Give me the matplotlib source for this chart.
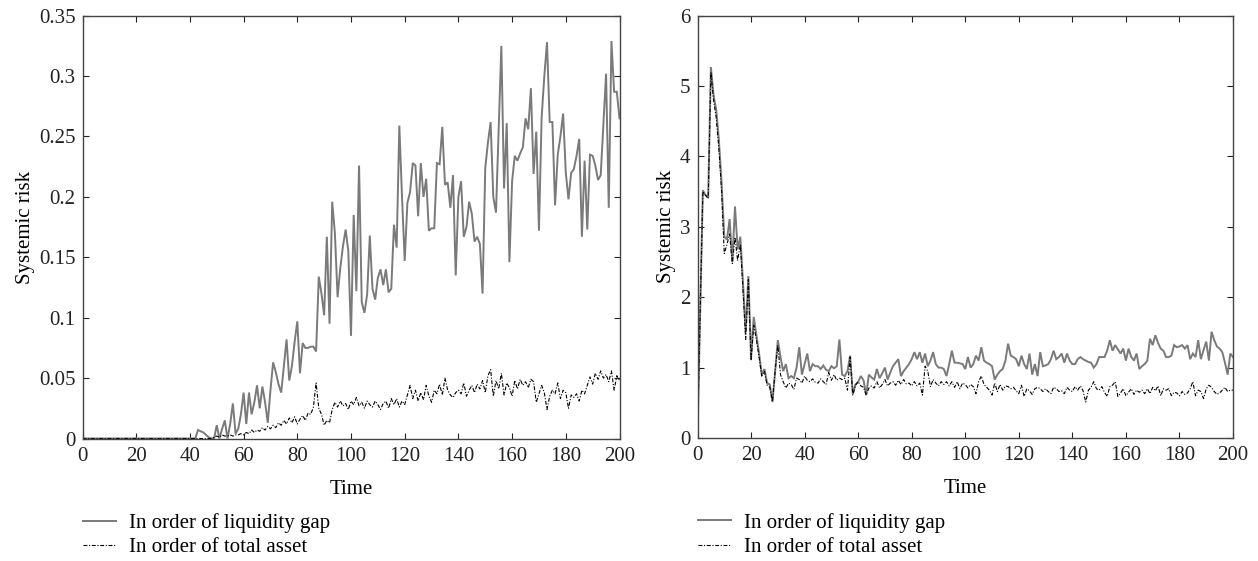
import matplotlib
matplotlib.use("Agg")
import matplotlib.pyplot as plt
import numpy as np

plt.rcParams['font.family'] = ['Liberation Serif', 'DejaVu Serif']

# ---------------- data ----------------
time = list(range(0, 201))

left_liquidity_gap = [0.0] * 43 + [
    0.007, 0.006, 0.005, 0.003, 0.001, 0.0, 0.0,                      # 43-49
    0.011, 0.0, 0.008, 0.015, 0.0, 0.012, 0.029, 0.004, 0.008, 0.02,  # 50-59
    0.038, 0.012, 0.038, 0.02, 0.03, 0.044, 0.025, 0.043, 0.03, 0.013,  # 60-69
    0.04, 0.063, 0.055, 0.045, 0.038, 0.06, 0.082, 0.048, 0.06, 0.08,   # 70-79
    0.097, 0.054, 0.079, 0.075, 0.075, 0.076, 0.076, 0.072, 0.134, 0.12,  # 80-89
    0.102, 0.167, 0.095, 0.196, 0.170, 0.117, 0.141, 0.159, 0.173, 0.155,  # 90-99
    0.085, 0.185, 0.122, 0.226, 0.113, 0.104, 0.119, 0.168, 0.124, 0.115,  # 100-109
    0.133, 0.140, 0.127, 0.140, 0.121, 0.124, 0.177, 0.158, 0.259, 0.2,    # 110-119
    0.147, 0.195, 0.204, 0.228, 0.226, 0.184, 0.228, 0.200, 0.215, 0.172,  # 120-129
    0.174, 0.174, 0.228, 0.227, 0.258, 0.210, 0.212, 0.191, 0.218, 0.135,  # 130-139
    0.2, 0.213, 0.167, 0.175, 0.196, 0.186, 0.163, 0.167, 0.161, 0.12,     # 140-149
    0.224, 0.245, 0.262, 0.2, 0.187, 0.256, 0.325, 0.207, 0.261, 0.146,    # 150-159
    0.213, 0.234, 0.230, 0.236, 0.241, 0.265, 0.256, 0.290, 0.219, 0.254,  # 160-169
    0.172, 0.266, 0.3, 0.328, 0.262, 0.262, 0.193, 0.235, 0.25, 0.269,     # 170-179
    0.22, 0.198, 0.22, 0.223, 0.234, 0.248, 0.167, 0.230, 0.173, 0.235,    # 180-189
    0.234, 0.226, 0.214, 0.218, 0.26, 0.302, 0.191, 0.329, 0.287, 0.287,   # 190-199
    0.265,                                                                  # 200
]

left_total_asset = [0.0] * 49 + [
    0.001, 0.002, 0.001, 0.003, 0.002, 0.002, 0.003, 0.002, 0.003, 0.003,  # 49-58
    0.004, 0.003, 0.005, 0.004, 0.007, 0.005, 0.007, 0.006, 0.009, 0.007,  # 59-68
    0.01, 0.008, 0.011, 0.009, 0.013, 0.011, 0.015, 0.012, 0.017, 0.013,   # 69-78
    0.018, 0.012, 0.016, 0.019, 0.015, 0.021, 0.02, 0.026, 0.046, 0.025,   # 79-88
    0.02, 0.011, 0.015, 0.013, 0.024, 0.03, 0.026, 0.031, 0.027, 0.029,    # 89-98
    0.024, 0.031, 0.028, 0.034, 0.027, 0.03, 0.025, 0.031, 0.028, 0.026,   # 99-108
    0.031, 0.028, 0.024, 0.029, 0.031, 0.025, 0.033, 0.028, 0.033, 0.026,  # 109-118
    0.031, 0.028, 0.036, 0.044, 0.033, 0.04, 0.031, 0.038, 0.032, 0.044,   # 119-128
    0.035, 0.03, 0.04, 0.037, 0.045, 0.036, 0.05, 0.04, 0.036, 0.034,      # 129-138
    0.038, 0.04, 0.037, 0.046, 0.035, 0.04, 0.044, 0.038, 0.045, 0.041,    # 139-148
    0.048, 0.038, 0.052, 0.057, 0.035, 0.048, 0.041, 0.054, 0.036, 0.046,  # 149-158
    0.042, 0.035, 0.048, 0.041, 0.049, 0.044, 0.047, 0.042, 0.049, 0.047,  # 159-168
    0.03, 0.037, 0.044, 0.038, 0.024, 0.035, 0.04, 0.037, 0.046, 0.033,    # 169-178
    0.04, 0.038, 0.025, 0.036, 0.034, 0.037, 0.031, 0.04, 0.037, 0.044,    # 179-188
    0.051, 0.045, 0.054, 0.049, 0.056, 0.05, 0.053, 0.047, 0.056, 0.04,    # 189-198
    0.052, 0.048,                                                          # 199-200
]

right_liquidity_gap = [
    0.0, 1.8, 3.52, 3.45, 3.43, 5.27, 4.87, 4.66, 4.23, 3.62,            # 0-9
    2.86, 2.82, 3.11, 2.5, 3.29, 2.68, 2.86, 2.2, 1.5, 2.3,              # 10-19
    1.13, 1.72, 1.46, 1.2, 0.9, 0.98, 0.78, 0.76, 0.51, 0.95,            # 20-29
    1.39, 1.15, 0.95, 1.05, 0.85, 0.88, 0.85, 1.0, 1.29, 0.9,            # 30-39
    1.05, 1.2, 0.95, 1.05, 1.02, 1.02, 0.98, 1.03, 0.97, 0.95,           # 40-49
    1.02, 0.99, 1.02, 1.4, 0.9, 0.88, 0.95, 1.17, 0.63, 0.76,            # 50-59
    0.8, 0.88, 0.82, 0.61, 0.9, 0.86, 0.83, 0.98, 0.85, 0.92,            # 60-69
    1.0, 0.83, 0.93, 1.02, 1.07, 1.12, 0.88, 0.95, 1.0, 1.05,            # 70-79
    1.12, 1.22, 1.12, 1.22, 1.07, 1.2, 1.02, 1.1, 1.22, 1.05,            # 80-89
    1.0, 1.0, 0.98, 0.88, 1.05, 1.24, 1.07, 1.07, 1.06, 1.05,            # 90-99
    0.98, 1.15, 1.0, 1.05, 1.17, 1.1, 1.29, 1.1, 1.07, 1.05,             # 100-109
    1.02, 0.83, 0.9, 0.95, 0.98, 1.1, 1.34, 1.17, 1.15, 1.12,            # 110-119
    1.02, 1.17, 1.05, 0.98, 1.2, 0.9, 1.05, 0.88, 1.22, 1.02,            # 120-129
    1.03, 1.05, 1.12, 1.24, 1.12, 1.15, 1.2, 1.07, 1.2, 1.1,             # 130-139
    1.05, 1.05, 1.12, 1.15, 1.12, 1.1, 1.08, 1.07, 1.0, 1.05,            # 140-149
    1.15, 1.15, 1.15, 1.24, 1.39, 1.24, 1.32, 1.26, 1.2, 1.27,           # 150-159
    1.1, 1.27, 1.15, 1.1, 1.2, 0.98, 1.02, 1.05, 1.1, 1.41,              # 160-169
    1.32, 1.46, 1.35, 1.27, 1.24, 1.15, 1.15, 1.17, 1.32, 1.29,          # 170-179
    1.3, 1.32, 1.27, 1.32, 1.12, 1.2, 1.15, 1.39, 1.12, 1.25,            # 180-189
    1.37, 1.1, 1.51, 1.39, 1.3, 1.27, 1.22, 1.07, 0.9, 1.2,              # 190-199
    1.15,                                                                # 200
]

right_total_asset = [
    0.0, 1.8, 3.5, 3.45, 3.4, 5.2, 4.8, 4.55, 4.1, 3.5,                  # 0-9
    2.62, 2.75, 2.9, 2.48, 2.85, 2.52, 2.75, 2.1, 1.4, 2.25,             # 10-19
    1.1, 1.6, 1.4, 1.15, 0.88, 0.95, 0.75, 0.72, 0.52, 0.95,             # 20-29
    1.32, 0.9, 0.8, 0.71, 0.78, 0.76, 0.69, 0.85, 0.83, 0.78,            # 30-39
    0.88, 0.82, 0.8, 0.84, 0.79, 0.78, 0.84, 0.8, 0.76, 0.93,            # 40-49
    0.82, 0.9, 0.82, 0.85, 0.83, 0.85, 0.68, 1.15, 0.61, 0.75,           # 50-59
    0.8, 0.74, 0.72, 0.61, 0.71, 0.74, 0.71, 0.8, 0.71, 0.76,            # 60-69
    0.83, 0.74, 0.78, 0.8, 0.75, 0.82, 0.76, 0.83, 0.77, 0.78,           # 70-79
    0.74, 0.8, 0.74, 0.78, 0.61, 1.02, 0.95, 0.73, 0.83, 0.78,           # 80-89
    0.74, 0.8, 0.76, 0.8, 0.74, 0.8, 0.72, 0.8, 0.7, 0.78,               # 90-99
    0.76, 0.71, 0.76, 0.73, 0.63, 0.8, 0.88, 0.76, 0.72, 0.68,           # 100-109
    0.61, 0.78, 0.66, 0.76, 0.68, 0.74, 0.73, 0.7, 0.72, 0.67,           # 110-119
    0.63, 0.75, 0.59, 0.7, 0.67, 0.62, 0.7, 0.72, 0.7, 0.66,             # 120-129
    0.7, 0.66, 0.63, 0.72, 0.7, 0.66, 0.67, 0.63, 0.72, 0.68,            # 130-139
    0.66, 0.73, 0.68, 0.74, 0.67, 0.51, 0.68, 0.72, 0.8, 0.7,            # 140-149
    0.68, 0.73, 0.65, 0.59, 0.73, 0.75, 0.8, 0.59, 0.64, 0.7,            # 150-159
    0.6, 0.65, 0.7, 0.62, 0.68, 0.65, 0.68, 0.63, 0.7, 0.63,             # 160-169
    0.72, 0.67, 0.74, 0.6, 0.7, 0.68, 0.7, 0.6, 0.65, 0.64,              # 170-179
    0.6, 0.66, 0.62, 0.64, 0.7, 0.8, 0.6, 0.68, 0.66, 0.56,              # 180-189
    0.7, 0.75, 0.72, 0.66, 0.62, 0.64, 0.68, 0.72, 0.66, 0.68,           # 190-199
    0.68,                                                                # 200
]

x_ticks = [0, 20, 40, 60, 80, 100, 120, 140, 160, 180, 200]
left_y_ticks = [0, 0.05, 0.1, 0.15, 0.2, 0.25, 0.3, 0.35]
left_y_labels = ["0", "0.05", "0.1", "0.15", "0.2", "0.25", "0.3", "0.35"]
right_y_ticks = [0, 1, 2, 3, 4, 5, 6]
series_labels = ["In order of liquidity gap", "In order of total asset"]

# ---------------- figure ----------------
W, H = 1258, 561
fig = plt.figure(figsize=(W / 100, H / 100), dpi=100)

def px_axes(x0, x1, y_top, y_bot):
    return fig.add_axes([x0 / W, 1 - y_bot / H, (x1 - x0) / W, (y_bot - y_top) / H])

axL = px_axes(82.5, 619.5, 15.7, 438.5)
axR = px_axes(697.5, 1233.0, 15.7, 438.0)

solid_kw = dict(color="#7a7a7a", lw=1.4, solid_joinstyle="miter")
dash_kw = dict(color="black", lw=0.8, linestyle=(0, (3.5, 1.5, 1.0, 1.5)))
FS = 15

for ax, s1, s2, yt, ylab, ylim in [
    (axL, left_liquidity_gap, left_total_asset, left_y_ticks, left_y_labels, (0, 0.35)),
    (axR, right_liquidity_gap, right_total_asset, right_y_ticks, [str(v) for v in right_y_ticks], (0, 6)),
]:
    l1, = ax.plot(time, s1, **solid_kw)
    l2, = ax.plot(time, s2, **dash_kw)
    ax.set_xlim(0, 200)
    ax.set_ylim(*ylim)
    ax.set_xticks(x_ticks)
    ax.set_xticklabels([str(v) for v in x_ticks])
    ax.set_yticks(yt)
    ax.set_yticklabels(ylab)
    ax.tick_params(direction="in", top=True, right=True, length=4, width=0.8,
                   labelsize=FS, colors="#222222")
    ax.tick_params(axis="x", pad=6)
    ax.tick_params(axis="y", pad=5)
    for sp in ax.spines.values():
        sp.set_color("#444444")
        sp.set_linewidth(1.0)
    ax.set_xlabel("Time", fontsize=FS, labelpad=10)
    ax.set_ylabel("Systemic risk", fontsize=FS, labelpad=3)
    ax.legend([l1, l2], series_labels, loc="upper left",
              bbox_to_anchor=(0.0, -0.177), frameon=False, fontsize=FS,
              handlelength=1.6, handletextpad=0.65, borderpad=0, borderaxespad=0,
              labelspacing=0.22)

fig.savefig("out.png", dpi=100)
